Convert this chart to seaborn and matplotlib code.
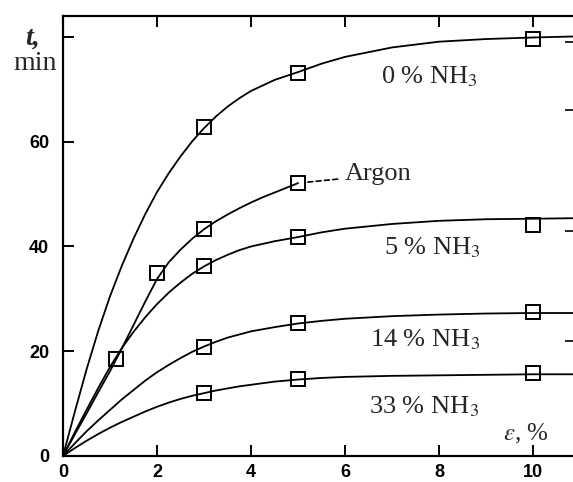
import pandas as pd
import seaborn as sns
from matplotlib import pyplot as plt

# Values
eps_grid = [0, 0.25, 0.5, 0.75, 1, 1.25, 1.5, 1.75, 2, 2.25, 2.5, 2.75, 3, 3.25, 3.5, 3.75,
            4, 4.5, 5, 5.5, 6, 7, 8, 9, 10, 10.9]
curve_0 = [0, 8.4, 16.5, 23.9, 30.5, 36.3, 41.5, 46.2, 50.4, 54.0, 57.2, 60.1, 62.6, 64.8, 66.7, 68.3,
           69.7, 71.8, 73.3, 74.9, 76.2, 78.0, 79.1, 79.6, 79.9, 80.1]
curve_5 = [0, 4.5, 8.8, 13.0, 17.0, 20.6, 23.7, 26.5, 29.0, 31.2, 33.1, 34.8, 36.2, 37.4, 38.4, 39.3,
           40.0, 41.0, 41.8, 42.7, 43.4, 44.3, 44.9, 45.2, 45.3, 45.4]
curve_14 = [0, 2.4, 4.7, 6.8, 8.8, 10.8, 12.6, 14.4, 16.0, 17.4, 18.7, 19.9, 20.9, 21.8, 22.6, 23.2,
            23.8, 24.6, 25.3, 25.8, 26.2, 26.7, 27.0, 27.2, 27.3, 27.3]
curve_33 = [0, 1.5, 2.9, 4.2, 5.4, 6.5, 7.5, 8.5, 9.4, 10.2, 10.9, 11.5, 12.0, 12.5, 12.9, 13.3,
            13.6, 14.2, 14.6, 14.9, 15.1, 15.3, 15.4, 15.5, 15.6, 15.6]

argon_grid = [0, 0.25, 0.5, 0.75, 1, 1.25, 1.5, 1.75, 2, 2.25, 2.5, 2.75, 3, 3.25, 3.5, 3.75,
              4, 4.25, 4.5, 4.75, 5]
curve_argon = [0, 4.1, 8.1, 12.2, 16.2, 20.5, 25.0, 29.5, 33.8, 37.0, 39.4, 41.5, 43.3, 44.8, 46.1, 47.3,
               48.4, 49.4, 50.3, 51.2, 52.1]

# Measured points (open squares)
pts_eps = [3, 5, 10]
pts_0 = [62.8, 73.1, 79.6]
pts_5 = [36.3, 41.8, 44.1]
pts_14 = [20.9, 25.4, 27.5]
pts_33 = [12.0, 14.7, 15.8]
argon_pts_eps = [1.12, 2.0, 3, 5]
argon_pts = [18.5, 35.0, 43.3, 52.1]

labels = ['0 % NH$_3$', '5 % NH$_3$', '14 % NH$_3$', '33 % NH$_3$']
label_x = [7.79, 7.85, 7.70, 7.68]
label_y = [71.2, 38.4, 21.0, 8.2]

x_ticks = [0, 2, 4, 6, 8, 10]
y_ticks = [0, 20, 40, 60]
y_ticks_left_marks = [0, 20, 40, 60, 80]
right_marks = [22, 43, 66, 79]

sns.set_style('ticks')
plt.rcParams['font.family'] = ['Liberation Serif', 'DejaVu Serif']
plt.rcParams['mathtext.fontset'] = 'stix'

fig = plt.figure(figsize=(5.73, 4.82), dpi=100)
fig.patch.set_facecolor('white')
ax = fig.add_axes([63 / 573, 26 / 482, 513 / 573, 440 / 482])
ax.set_facecolor('white')

gases = ['0', '5', '14', '33']
curves = pd.DataFrame({'eps': eps_grid * 4,
                       't': curve_0 + curve_5 + curve_14 + curve_33,
                       'gas': sum([[g] * len(eps_grid) for g in gases], [])})

for gas in gases:
    sns.lineplot(x='eps', y='t', data=curves[curves['gas'] == gas],
                 color='black', lw=1.3, sort=False, estimator=None, ax=ax)

sns.lineplot(x=argon_grid, y=curve_argon, color='black', lw=1.3,
             sort=False, estimator=None, ax=ax)

# Open square markers
for xs, ys in [(pts_eps, pts_0), (pts_eps, pts_5), (pts_eps, pts_14),
               (pts_eps, pts_33), (argon_pts_eps, argon_pts)]:
    sns.lineplot(x=xs, y=ys, linestyle='', marker='s', markersize=10,
                 markerfacecolor='none', markeredgecolor='black', mew=1.4,
                 estimator=None, ax=ax)

# Curve labels
for txt, lx, ly in zip(labels, label_x, label_y):
    ax.text(lx, ly, txt, fontsize=19, ha='center', va='baseline')

ax.annotate('Argon', xy=(argon_pts_eps[-1], argon_pts[-1]), xytext=(6.0, 52.7),
            fontsize=19, ha='left', va='baseline',
            arrowprops=dict(arrowstyle='-', linestyle=(0, (3, 2)), lw=1.2,
                            color='black', shrinkA=3, shrinkB=7, relpos=(0, 0.3)))

ax.text(9.85, 3.0, r'$\varepsilon$, %', fontsize=18, ha='center', va='baseline')

fig.text(33 / 573, 1 - 38 / 482, 't,', fontsize=20, fontstyle='italic',
         fontweight='bold', ha='center', va='center')
fig.text(35 / 573, 1 - 63 / 482, 'min', fontsize=20, ha='center', va='center')

ax.set_xlim(0, 10.91)
ax.set_ylim(0, 84)
ax.set_xticks(x_ticks)
ax.set_yticks(y_ticks_left_marks)
ax.set_yticklabels([str(v) for v in y_ticks] + [''])
ax.set_xlabel('')
ax.set_ylabel('')

ax.tick_params(direction='in', length=8, width=1.4, top=True, right=False,
               labelsize=13, colors='black')
ax.tick_params(axis='y', pad=10)
ax.tick_params(axis='x', pad=6)
for lab in ax.get_xticklabels() + ax.get_yticklabels():
    lab.set_fontfamily('Liberation Sans')
    lab.set_fontweight('bold')

sec = ax.secondary_yaxis('right')
sec.set_yticks(right_marks)
sec.tick_params(direction='in', length=8, width=1.4, labelright=False)

for side in ['left', 'bottom', 'top', 'right']:
    ax.spines[side].set_visible(True)
    ax.spines[side].set_linewidth(1.6)
    ax.spines[side].set_color('black')

fig.savefig('out.png', dpi=100)
